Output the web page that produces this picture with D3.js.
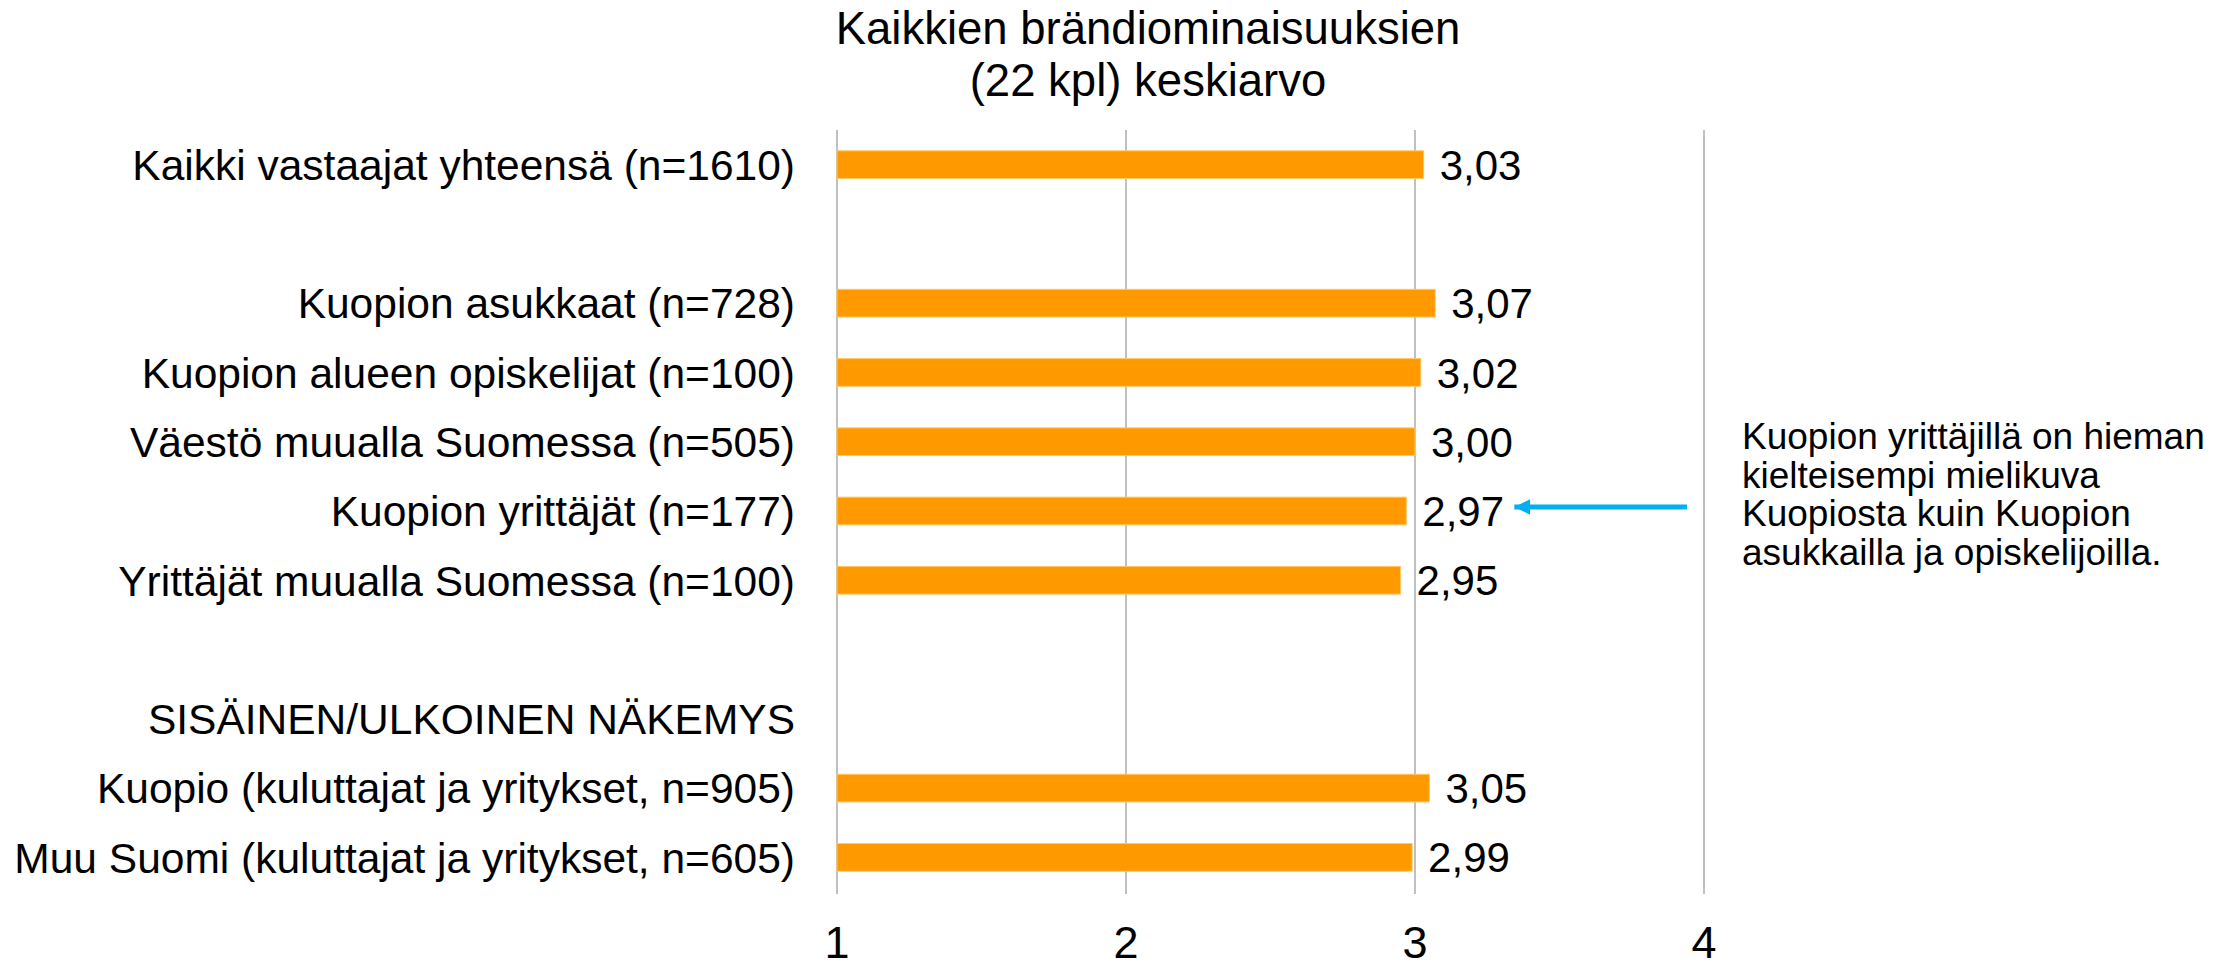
<!DOCTYPE html>
<html>
<head>
<meta charset="utf-8">
<script src="https://cdn.jsdelivr.net/npm/d3@7"></script>
<style>
  body { margin: 0; background: #fff; }
  text { font-family: "Liberation Sans", Arial, sans-serif; fill: #000; }
</style>
</head>
<body>
<svg id="chart" width="2234" height="969"></svg>
<script>
// Data
var categories = [
  'Kaikki vastaajat yhteensä (n=1610)',
  '',
  'Kuopion asukkaat (n=728)',
  'Kuopion alueen opiskelijat (n=100)',
  'Väestö muualla Suomessa (n=505)',
  'Kuopion yrittäjät (n=177)',
  'Yrittäjät muualla Suomessa (n=100)',
  '',
  'SISÄINEN/ULKOINEN NÄKEMYS',
  'Kuopio (kuluttajat ja yritykset, n=905)',
  'Muu Suomi (kuluttajat ja yritykset, n=605)'
];
var values = [3.03, null, 3.07, 3.02, 3.00, 2.97, 2.95, null, null, 3.05, 2.99];
var xTicks = [1, 2, 3, 4];
var titleLines = ['Kaikkien brändiominaisuuksien', '(22 kpl) keskiarvo'];
var noteLines = [
  'Kuopion yrittäjillä on hieman',
  'kielteisempi mielikuva',
  'Kuopiosta kuin Kuopion',
  'asukkailla ja opiskelijoilla.'
];
var noteRow = 5;

var svg = d3.select('#chart');

// Scales
var x = d3.scaleLinear()
          .domain([1, 4])
          .range([837, 1704]);
var y = d3.scaleBand()
          .domain(d3.range(categories.length))
          .range([130, 892])
          .paddingInner(0.6)
          .paddingOuter(0.3);
var rowMid = function (i) { return y(i) + y.bandwidth() / 2; };

// Title
svg.append('g')
   .selectAll('text')
   .data(titleLines)
   .enter()
   .append('text')
   .attr('x', 1148)
   .attr('y', function (d, i) { return 44 + i * 52; })
   .attr('text-anchor', 'middle')
   .style('font-size', '45.5px')
   .text(function (d) { return d; });

// Grid lines
svg.append('g')
   .selectAll('line')
   .data(xTicks)
   .enter()
   .append('line')
   .attr('x1', function (d) { return x(d); })
   .attr('x2', function (d) { return x(d); })
   .attr('y1', 130)
   .attr('y2', 894)
   .attr('stroke', '#c0c0c0')
   .attr('stroke-width', 2);

// Tick labels
svg.append('g')
   .selectAll('text')
   .data(xTicks)
   .enter()
   .append('text')
   .attr('x', function (d) { return x(d); })
   .attr('y', 958)
   .attr('text-anchor', 'middle')
   .style('font-size', '45px')
   .text(function (d) { return d; });

// Bars
var rows = values.map(function (v, i) { return { i: i, value: v }; })
                 .filter(function (d) { return d.value !== null; });
svg.append('g')
   .selectAll('rect')
   .data(rows)
   .enter()
   .append('rect')
   .attr('x', x(1))
   .attr('y', function (d) { return y(d.i); })
   .attr('width', function (d) { return x(d.value) - x(1); })
   .attr('height', y.bandwidth())
   .attr('fill', '#ff9900')
   .attr('stroke', '#ffc866')
   .attr('stroke-width', 1);

// Value labels
var fmt = function (v) { return v.toFixed(2).replace('.', ','); };
svg.append('g')
   .selectAll('text')
   .data(rows)
   .enter()
   .append('text')
   .attr('x', function (d) { return x(d.value) + 16; })
   .attr('y', function (d) { return rowMid(d.i); })
   .attr('dy', '0.36em')
   .style('font-size', '42px')
   .text(function (d) { return fmt(d.value); });

// Category labels
svg.append('g')
   .selectAll('text')
   .data(categories)
   .enter()
   .append('text')
   .attr('x', x(1) - 42)
   .attr('y', function (d, i) { return rowMid(i); })
   .attr('dy', '0.36em')
   .attr('text-anchor', 'end')
   .style('font-size', '42.5px')
   .text(function (d) { return d; });

// Annotation arrow
svg.append('defs')
   .append('marker')
   .attr('id', 'head')
   .attr('viewBox', '0 0 10 10')
   .attr('refX', 10)
   .attr('refY', 5)
   .attr('markerWidth', 3.2)
   .attr('markerHeight', 3.4)
   .attr('markerUnits', 'strokeWidth')
   .attr('orient', 'auto')
   .append('path')
   .attr('d', 'M0,0 L10,5 L0,10 Z')
   .attr('fill', '#00b0f0');

var arrowY = rowMid(noteRow) - 4;
svg.append('line')
   .attr('x1', 1687)
   .attr('x2', x(values[noteRow]) + 108)
   .attr('y1', arrowY)
   .attr('y2', arrowY)
   .attr('stroke', '#00b0f0')
   .attr('stroke-width', 5)
   .attr('marker-end', 'url(#head)');

// Annotation text
svg.append('g')
   .selectAll('text')
   .data(noteLines)
   .enter()
   .append('text')
   .attr('x', 1742)
   .attr('y', function (d, i) { return 449 + i * 38.5; })
   .style('font-size', '37px')
   .text(function (d) { return d; });
</script>
</body>
</html>
